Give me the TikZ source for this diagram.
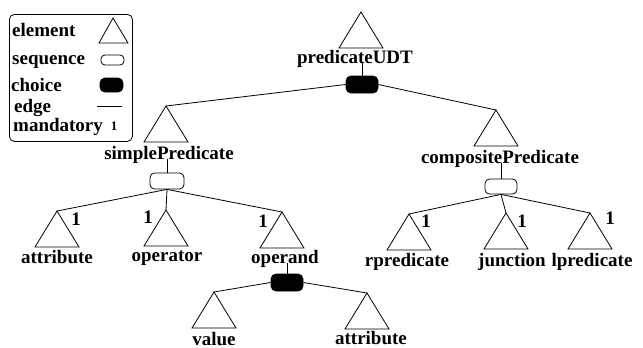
\documentclass[tikz,border=0pt]{standalone}
\usepackage{fontspec}
\setmainfont{Liberation Serif}
\begin{document}
\begin{tikzpicture}[x=1pt,y=-1pt,
  every node/.style={font=\fontsize{19}{22}\selectfont\bfseries, inner sep=0pt},
  lbl/.style={anchor=base},
  num/.style={anchor=base},
  elemtri/.style={draw, line width=0.8pt, line join=miter},
  seqbox/.style={draw, line width=0.8pt, rounded corners=4.5pt, minimum width=33pt, minimum height=16pt},
  choicebox/.style={draw, fill=black, line width=0.8pt, rounded corners=5pt, minimum width=32pt, minimum height=17pt},
  edge/.style={line width=0.8pt}]
\useasboundingbox (0,0) rectangle (643,348);

% element triangle: apex named #1, hanging down from it
\newcommand\elemtri[3]{%
  \coordinate (#1) at (#2,#3);
  \draw[elemtri] (#1) -- ++(-22,36) -- ++(44,0) -- cycle;}

% ---------- legend ----------
\node[draw, line width=0.8pt, rounded corners=5pt, minimum width=123pt, minimum height=127pt, anchor=north west] (legend) at (9,14) {};
\node[lbl, anchor=base west] (lg-el) at (12,36) {element};
\node[lbl, anchor=base west] (lg-seq) at (12,64) {sequence};
\node[lbl, anchor=base west] (lg-ch) at (11,91) {choice};
\node[lbl, anchor=base west] (lg-ed) at (14,112) {edge};
\node[lbl, anchor=base west] (lg-md) at (13,131) {mandatory};
\draw[elemtri] (113,18) -- (99,43) -- (128,43) -- cycle;
\node[seqbox, minimum width=23pt, minimum height=10pt, rounded corners=4pt] (lg-seqbox) at (112.5,60) {};
\node[choicebox, minimum width=23pt, minimum height=14pt] (lg-chbox) at (111.5,85) {};
\coordinate (lg-e1) at (97,106);
\coordinate (lg-e2) at (122,106);
\draw[edge] (lg-e1) -- (lg-e2);
\node[num, font=\fontsize{13}{15}\selectfont\bfseries] (lg-one) at (114,130) {1};

% ---------- root ----------
\elemtri{udt}{361}{12}
\node[lbl] (udt-l) at (355,63) {predicateUDT};
\node[choicebox] (c1) at (362,84.5) {};
\draw[edge] (c1.north) -- (c1.north |- udt-l.base);

% ---------- simplePredicate ----------
\elemtri{sp}{166}{106}
\node[lbl] (sp-l) at (169,159) {simplePredicate};
\node[seqbox, minimum width=34pt] (s1) at (167,181) {};
\draw[edge] (s1.north) -- (s1.north |- sp-l.base);
\draw[edge] (c1.west) -- (sp);

\elemtri{at1}{57}{211}
\node[lbl] (at1-l) at (57,263) {attribute};
\node[num] (at1-n) at (76,225) {1};

\elemtri{op}{166}{210}
\node[lbl] (op-l) at (167,261) {operator};
\node[num] (op-n) at (148,223) {1};

\elemtri{od}{282}{212}
\node[lbl] (od-l) at (285,263) {operand};
\node[num] (od-n) at (263,227) {1};

\draw[edge] (s1.south) -- (at1);
\draw[edge] (s1.south) -- (op);
\draw[edge] (s1.south) -- (od);

% ---------- operand choice ----------
\node[choicebox] (c2) at (287,282.5) {};
\draw[edge] (c2.north) -- (c2.north |- od-l.base);

\elemtri{val}{214}{292}
\node[lbl] (val-l) at (214,345) {value};
\elemtri{at2}{367}{293}
\node[lbl] (at2-l) at (371,344) {attribute};
\draw[edge] (c2.west) -- (val);
\draw[edge] (c2.east) -- (at2);

% ---------- compositePredicate ----------
\elemtri{cp}{496}{110}
\node[lbl] (cp-l) at (500,163) {compositePredicate};
\node[seqbox, minimum width=32pt, minimum height=15pt] (s2) at (501,186.5) {};
\draw[edge] (s2.north) -- (s2.north |- cp-l.base);
\draw[edge] (c1.east) -- (cp);

\elemtri{rp}{409}{214}
\node[lbl] (rp-l) at (407,266) {rpredicate};
\node[num] (rp-n) at (426,227) {1};

\elemtri{jn}{506}{213}
\node[lbl] (jn-l) at (512,266) {junction};
\node[num] (jn-n) at (522,227) {1};

\elemtri{lp}{590}{213}
\node[lbl] (lp-l) at (592,266) {lpredicate};
\node[num] (lp-n) at (610,224) {1};

\draw[edge] (s2.south) -- (rp);
\draw[edge] (s2.south) -- (jn);
\draw[edge] (s2.south) -- (lp);
\end{tikzpicture}
\end{document}
